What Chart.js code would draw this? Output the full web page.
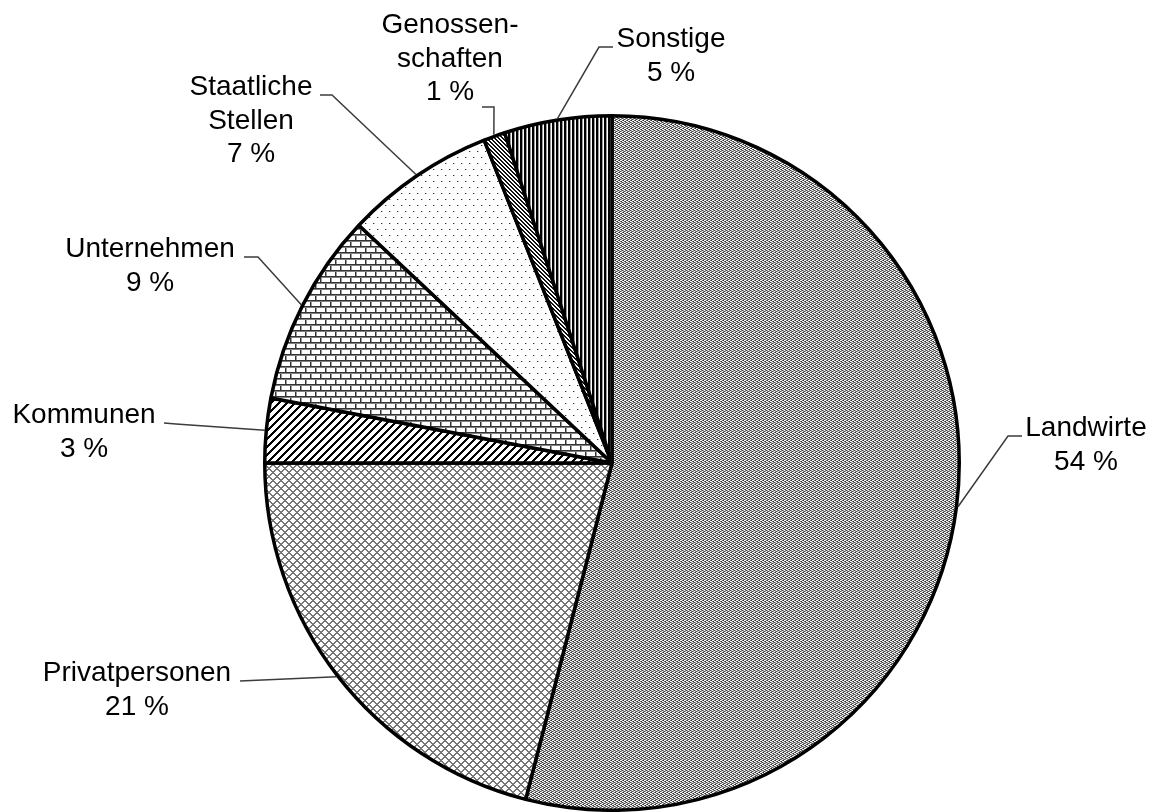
<!DOCTYPE html>
<html>
<head>
<meta charset="utf-8">
<style>
  html, body { margin: 0; padding: 0; background: #fff; overflow: hidden; }
  canvas { display: block; }
</style>
<script src="https://cdn.jsdelivr.net/npm/chart.js@4/dist/chart.umd.min.js"></script>
</head>
<body>
<canvas id="pie" width="1162" height="812"></canvas>
<script>
// Owners, shares in percent (clockwise from 12 o'clock)
const categories = ['Landwirte', 'Privatpersonen', 'Kommunen', 'Unternehmen', 'Staatliche Stellen', 'Genossenschaften', 'Sonstige'];
const shares = [54, 21, 3, 9, 7, 1, 5];
// Label text lines per slice (name may wrap, value line is built from shares)
const labelNames = [['Landwirte'], ['Privatpersonen'], ['Kommunen'], ['Unternehmen'], ['Staatliche', 'Stellen'], ['Genossen-', 'schaften'], ['Sonstige']];

// Where each label sits: text centre x, first baseline y, and the elbow of its leader line
const labelLayout = [
  { x: 1086, y: 436, lead: [[1022, 436], [1008, 436]] },
  { x: 137,  y: 681, lead: [[240, 681]] },
  { x: 84,   y: 423, lead: [[164, 423], [176, 424]] },
  { x: 150,  y: 257, lead: [[244, 257], [258, 257]] },
  { x: 251,  y: 95,  lead: [[320, 95], [332, 95]] },
  { x: 450,  y: 33,  lead: [[482, 107], [494, 107]] },
  { x: 671,  y: 47,  lead: [[613, 47], [599, 47]] }
];
const LINE_H = 33.5;

const canvas = document.getElementById('pie');
const ctx = canvas.getContext('2d');

// Build a repeating fill from a small pixel tile
function tile(w, h, paint) {
  const c = document.createElement('canvas');
  c.width = w; c.height = h;
  const t = c.getContext('2d');
  t.fillStyle = '#fff';
  t.fillRect(0, 0, w, h);
  for (let y = 0; y < h; y++) {
    for (let x = 0; x < w; x++) {
      const col = paint(x, y);
      if (col) { t.fillStyle = col; t.fillRect(x, y, 1, 1); }
    }
  }
  return ctx.createPattern(c, 'repeat');
}

const weave = [
  ['#fff', '#f2f2f2', '#6a6a6a', '#2e2e2e'],
  ['#6a6a6a', '#2e2e2e', '#fff', '#f2f2f2'],
  ['#fff', '#8a8a8a', '#444', '#9a9a9a'],
  ['#444', '#9a9a9a', '#fff', '#8a8a8a']
];

const fills = [
  // fine grey weave
  tile(4, 4, (x, y) => weave[y][x]),
  // diagonal crosshatch
  tile(8, 8, (x, y) => (((x + y) % 8) < 2 || ((x - y + 8) % 8) < 2) ? '#777' : null),
  // wide "/" hatch
  tile(8, 8, (x, y) => (((x + y) % 8) < 3) ? '#000' : null),
  // horizontal bricks
  tile(10, 12, (x, y) => {
    const r = y % 6;
    if (r === 0) return '#333';
    if (r === 1) return '#808080';
    const off = y < 6 ? 0 : 5;
    if (x === off) return '#333';
    if (x === (off + 1) % 10) return '#999';
    return null;
  }),
  // sparse dots
  tile(8, 12, (x, y) => {
    if ((x === 1 && y === 1) || (x === 5 && y === 7)) return '#333';
    if ((x === 2 && y === 1) || (x === 6 && y === 7)) return '#bbb';
    return null;
  }),
  // dense "\" hatch
  tile(4, 4, (x, y) => (((x - y + 8) % 4) < 2) ? '#111' : null),
  // vertical stripes
  tile(4, 1, (x) => (x < 2) ? '#000' : (x === 2 ? '#999' : null))
];

// Labels and leader lines anchored at each slice's outer mid-angle
const pieLabels = {
  id: 'pieLabels',
  afterDraw(chart) {
    const g = chart.ctx;
    const meta = chart.getDatasetMeta(0);
    g.save();
    meta.data.forEach((arc, i) => {
      const p = arc.getProps(['x', 'y', 'startAngle', 'endAngle', 'outerRadius'], true);
      const mid = (p.startAngle + p.endAngle) / 2;
      const r = p.outerRadius + 1.5;
      const ax = p.x + Math.cos(mid) * r;
      const ay = p.y + Math.sin(mid) * r;
      const L = labelLayout[i];
      g.strokeStyle = '#3c3c3c';
      g.lineWidth = 1.5;
      g.beginPath();
      g.moveTo(L.lead[0][0], L.lead[0][1]);
      for (let k = 1; k < L.lead.length; k++) g.lineTo(L.lead[k][0], L.lead[k][1]);
      g.lineTo(ax, ay);
      g.stroke();

      const lines = labelNames[i].concat([shares[i] + ' %']);
      g.fillStyle = '#000';
      g.font = '28px "Liberation Sans", Arial, sans-serif';
      g.textAlign = 'center';
      g.textBaseline = 'alphabetic';
      lines.forEach((t, k) => g.fillText(t, L.x, L.y + k * LINE_H));
    });
    g.restore();
  }
};

new Chart(canvas, {
  type: 'pie',
  data: {
    labels: categories,
    datasets: [{
      data: shares,
      backgroundColor: fills,
      borderColor: '#000',
      borderWidth: 3.5,
      hoverOffset: 0
    }]
  },
  options: {
    responsive: false,
    animation: false,
    layout: { padding: { left: 262, right: 200, top: 114, bottom: -2 } },
    plugins: {
      legend: { display: false },
      tooltip: { enabled: false }
    },
    events: []
  },
  plugins: [pieLabels]
});
</script>
</body>
</html>
